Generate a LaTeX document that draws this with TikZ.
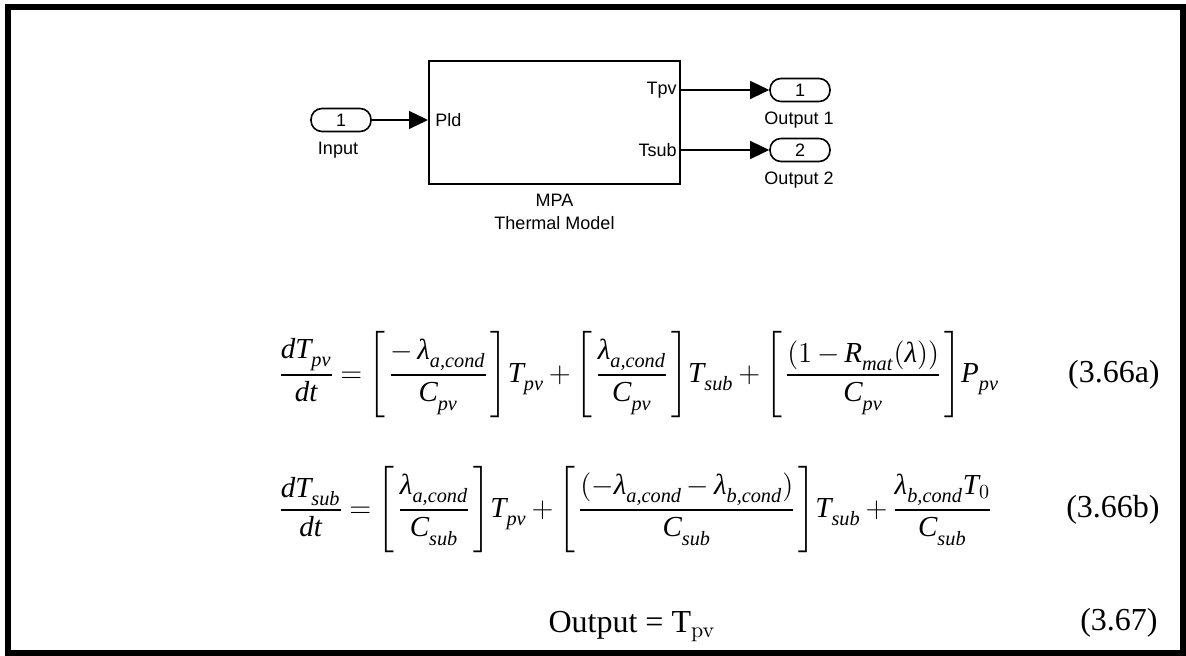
\documentclass[tikz,border=0pt]{standalone}
\usepackage{amsmath}
\usepackage[no-math]{fontspec}
\setmainfont{Liberation Serif}
\newfontfamily\simfont{Liberation Sans}
\usetikzlibrary{arrows.meta}
\newcommand{\mi}[1]{\textit{#1}}
\newcommand{\sbx}[1]{_{\mi{\raisebox{-2pt}{#1}}}}
\newcommand{\bpad}{\hspace{1.5pt}}
\thinmuskip=1mu\relax
\medmuskip=3mu\relax
\thickmuskip=4mu\relax

\begin{document}
\begin{tikzpicture}[x=0.5pt, y=-0.5pt,
  every node/.style={inner sep=0pt},
  simtxt/.style={font=\simfont\fontsize{9}{10}\selectfont},
  port/.style={draw, line width=0.8pt, rounded corners=5.5pt, minimum width=30pt, minimum height=11.5pt, simtxt},
  sig/.style={line width=0.6pt, -{Triangle[length=9.5pt, width=9pt]}},
  eqn/.style={font=\fontsize{14.5}{17}\selectfont},
  eqno/.style={font=\fontsize{16}{19}\selectfont}]
  \useasboundingbox (0,0) rectangle (1186,656);
  \draw[line width=3pt] (8,7) rectangle (1183,653);
  % subsystem block
  \node[draw, line width=1pt, minimum width=125.5pt, minimum height=61.5pt] (mpa) at (554.5,122.5) {};
  \node[simtxt, anchor=west] (pld) at (435,120) {Pld};
  \node[simtxt, anchor=east] (tpv) at (677,90) {Tpv};
  \node[simtxt, anchor=east] (tsub) at (677,150) {Tsub};
  \node[simtxt] (name1) at (554.5,200) {MPA};
  \node[simtxt] (name2) at (554.5,223) {Thermal Model};
  % in/out ports
  \node[port] (inp) at (341,120) {1};
  \node[port] (out1) at (800,90) {1};
  \node[port] (out2) at (800,150) {2};
  \node[simtxt] (inplbl) at (338,150) {Input};
  \node[simtxt] (out1lbl) at (799,120) {Output 1};
  \node[simtxt] (out2lbl) at (799,180) {Output 2};
  \draw[sig] (inp.east) -- (inp.east -| mpa.west);
  \draw[sig] (out1.west -| mpa.east) -- (out1.west);
  \draw[sig] (out2.west -| mpa.east) -- (out2.west);
  % equations
  \node[eqn, anchor=west] (eq1) at (278,375) {$\displaystyle \frac{\mi{dT}\sbx{pv}}{\mi{dt}} = \Biggl[\bpad\frac{-\hspace{2pt}\mi{λ}\sbx{a,cond}}{\mi{C}\sbx{pv}}\bpad\Biggr] \mi{T}\sbx{pv} + \Biggl[\bpad\frac{\mi{λ}\sbx{a,cond}}{\mi{C}\sbx{pv}}\bpad\Biggr] \mi{T}\sbx{sub} + \Biggl[\bpad\frac{(1-\mi{R}\sbx{mat}(\mi{λ}))}{\mi{C}\sbx{pv}}\bpad\Biggr] \mi{P}\sbx{pv}$};
  \node[eqno, anchor=east] (num1) at (1160,375) {(3.66a)};
  \node[eqn, anchor=west] (eq2) at (278,510) {$\displaystyle \frac{\mi{dT}\sbx{sub}}{\mi{dt}} = \Biggl[\bpad\frac{\mi{λ}\sbx{a,cond}}{\mi{C}\sbx{sub}}\bpad\Biggr] \mi{T}\sbx{pv} + \Biggl[\bpad\frac{(-\mi{λ}\sbx{a,cond}-\mi{λ}\sbx{b,cond})}{\mi{C}\sbx{sub}}\bpad\Biggr] \mi{T}\sbx{sub} + \frac{\mi{λ}\sbx{b,cond}\mi{T}_{0}}{\mi{C}\sbx{sub}}$};
  \node[eqno, anchor=east] (num2) at (1160,510) {(3.66b)};
  \node[eqno, anchor=base] (eq3) at (632,632) {Output = T$_{\mathrm{pv}}$};
  \node[eqno, anchor=east] (num3) at (1158,623) {(3.67)};
\end{tikzpicture}
\end{document}
